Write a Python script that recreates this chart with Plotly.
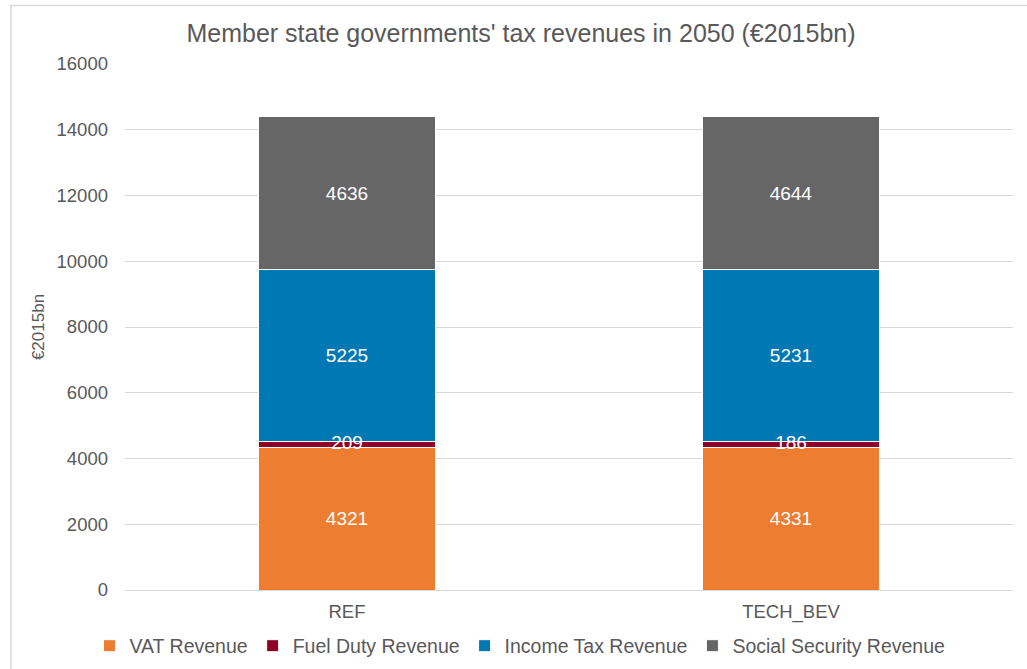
import plotly.graph_objects as go

categories = ["REF", "TECH_BEV"]
vat_revenue = [4321, 4331]
fuel_duty_revenue = [209, 186]
income_tax_revenue = [5225, 5231]
social_security_revenue = [4636, 4644]

series = [
    ("VAT Revenue", vat_revenue, "#ED7D31"),
    ("Fuel Duty Revenue", fuel_duty_revenue, "#8E0025"),
    ("Income Tax Revenue", income_tax_revenue, "#0078B4"),
    ("Social Security Revenue", social_security_revenue, "#666666"),
]

W, H = 1027, 669
L, R, T, B = 125, 14, 64, 79
pw, ph = W - L - R, H - T - B

def px_x(px):
    return (px - L) / pw

def px_y(py):
    return (H - B - py) / ph

FONT = "Liberation Sans, Arial, sans-serif"
GREY = "#595959"
LABEL_SIZE = 19

fig = go.Figure()
for name, vals, color in series:
    small = name == "Fuel Duty Revenue"
    fig.add_trace(go.Bar(
        name=name, x=categories, y=vals,
        marker=dict(color=color, line=dict(color="white", width=1)),
        text=None if small else vals, texttemplate=None if small else "%{text}",
        textposition="none" if small else "inside",
        insidetextanchor="middle", textangle=0,
        constraintext="none",
        textfont=dict(color="white", size=LABEL_SIZE, family=FONT),
        hoverinfo="name+y",
    ))

# label of the thin fuel-duty segment, drawn on top of all bars
fuel_mid = [v + f / 2 for v, f in zip(vat_revenue, fuel_duty_revenue)]
fig.add_trace(go.Scatter(
    x=categories, y=fuel_mid, mode="text", text=[str(v) for v in fuel_duty_revenue],
    textposition="middle center",
    textfont=dict(color="white", size=LABEL_SIZE, family=FONT),
    showlegend=False, hoverinfo="skip", cliponaxis=False,
))

fig.update_layout(
    barmode="stack",
    bargap=0.6,
    width=W, height=H,
    margin=dict(l=L, r=R, t=T, b=B, autoexpand=False),
    paper_bgcolor="white", plot_bgcolor="white",
    font=dict(family=FONT, color=GREY, size=18),
    uniformtext=dict(minsize=LABEL_SIZE, mode="show"),
    title=dict(
        text="Member state governments' tax revenues in 2050 (€2015bn)",
        x=521 / W, xanchor="center", y=1 - 33 / H, yanchor="middle",
        font=dict(size=25, color=GREY, family=FONT),
    ),
    xaxis=dict(
        showgrid=False, showline=False, zeroline=False,
        tickfont=dict(size=18.5, color=GREY), ticks="",
        ticklabelstandoff=8,
    ),
    yaxis=dict(
        range=[0, 16000], dtick=2000, tickformat="d",
        showgrid=True, gridcolor="#D9D9D9", gridwidth=1,
        zeroline=True, zerolinecolor="#D9D9D9", zerolinewidth=1,
        showline=False, ticks="",
        tickfont=dict(size=18.5, color=GREY),
        ticklabelstandoff=16,
        title=dict(text="€2015bn", font=dict(size=17, color=GREY), standoff=7),
    ),
    legend=dict(
        orientation="h", x=px_x(520), xanchor="center",
        y=px_y(646), yanchor="middle",
        font=dict(size=19.5, color=GREY), traceorder="normal",
        bgcolor="rgba(0,0,0,0)",
    ),
    shapes=[
        dict(type="line", xref="paper", yref="paper",
             x0=px_x(10), x1=px_x(1027), y0=px_y(5.5), y1=px_y(5.5),
             line=dict(color="#D9D9D9", width=1.5)),
        dict(type="line", xref="paper", yref="paper",
             x0=px_x(11), x1=px_x(11), y0=px_y(5), y1=px_y(669),
             line=dict(color="#D9D9D9", width=1.5)),
    ],
)

fig.write_html(
    "out.html",
    config={"displayModeBar": False},
    post_script="document.body.style.margin='0';document.body.style.overflow='hidden';",
)
